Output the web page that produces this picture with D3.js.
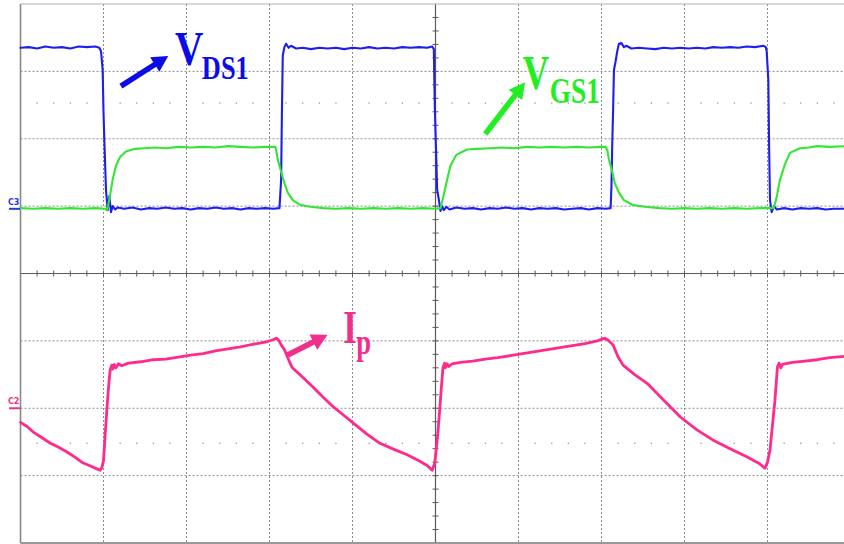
<!DOCTYPE html>
<html>
<head>
<meta charset="utf-8">
<script src="https://cdn.jsdelivr.net/npm/d3@7"></script>
<style>
  html, body { margin: 0; padding: 0; background: #fff; overflow: hidden; }
  svg { display: block; }
</style>
</head>
<body>
<svg id="scope" width="844" height="544"></svg>
<script>
// Oscilloscope capture: time and amplitude are both in screen divisions
// (10 horizontal, 8 vertical, amplitude 0 = screen centre).

// Drain-source voltage V_DS1 (channel 3, blue)
const vds1 = [
  [0.00,3.35],[0.10,3.36],[0.20,3.34],[0.30,3.37],[0.40,3.35],[0.50,3.36],[0.60,3.34],[0.70,3.37],[0.80,3.36],[0.90,3.37],[0.95,3.35],
  [0.97,3.30],[0.99,3.02],[1.00,2.40],[1.01,1.98],[1.03,1.24],[1.05,0.94],[1.07,1.15],[1.09,0.91],[1.11,1.00],[1.14,0.95],[1.17,0.98],
  [1.25,0.96],[1.35,0.98],[1.45,0.95],[1.55,0.97],[1.65,0.96],[1.75,0.98],[1.85,0.96],[1.95,0.97],[2.05,0.95],[2.15,0.97],[2.25,0.96],
  [2.35,0.98],[2.45,0.96],[2.55,0.97],[2.65,0.95],[2.75,0.97],[2.85,0.96],[2.95,0.97],[3.05,0.96],[3.12,0.97],
  [3.14,1.39],[3.15,2.43],[3.16,3.24],[3.18,3.36],[3.20,3.41],[3.23,3.35],[3.26,3.38],
  [3.32,3.34],[3.40,3.35],[3.50,3.33],[3.60,3.35],[3.70,3.34],[3.80,3.35],[3.90,3.33],[4.00,3.35],[4.10,3.34],[4.20,3.36],
  [4.30,3.34],[4.40,3.35],[4.50,3.34],[4.60,3.36],[4.70,3.35],[4.80,3.36],[4.90,3.35],[4.96,3.37],
  [4.98,3.33],[4.99,2.58],[5.00,2.10],[5.01,1.68],[5.02,1.24],[5.04,1.10],[5.06,0.93],[5.08,1.00],[5.10,0.94],[5.13,0.99],[5.17,0.95],
  [5.25,0.98],[5.35,0.96],[5.45,0.97],[5.55,0.95],[5.65,0.97],[5.75,0.96],[5.85,0.98],[5.95,0.96],[6.05,0.97],[6.15,0.95],
  [6.25,0.97],[6.35,0.96],[6.45,0.97],[6.55,0.95],[6.65,0.96],[6.75,0.97],[6.85,0.95],[6.95,0.97],[7.05,0.96],[7.11,0.97],
  [7.12,1.30],[7.13,1.95],[7.14,2.43],[7.15,3.02],[7.17,3.15],[7.19,3.30],[7.21,3.41],[7.24,3.42],[7.27,3.36],[7.30,3.38],
  [7.36,3.34],[7.45,3.35],[7.55,3.34],[7.65,3.33],[7.75,3.35],[7.85,3.34],[7.95,3.35],[8.05,3.34],[8.15,3.35],[8.25,3.34],
  [8.35,3.36],[8.45,3.35],[8.55,3.36],[8.65,3.35],[8.75,3.37],[8.85,3.36],[8.95,3.38],[8.98,3.36],
  [8.99,3.30],[9.01,2.87],[9.02,1.84],[9.03,1.09],[9.05,0.91],[9.08,1.00],[9.11,0.95],
  [9.20,0.97],[9.30,0.95],[9.40,0.97],[9.50,0.96],[9.60,0.97],[9.70,0.95],[9.80,0.96],[9.93,0.96]
];

// Gate-source voltage V_GS1 (green)
const vgs1 = [
  [0.00,0.97],[0.15,0.96],[0.30,0.97],[0.45,0.96],[0.60,0.97],[0.75,0.96],[0.90,0.97],[1.02,0.96],[1.04,0.94],[1.05,0.97],
  [1.08,1.17],[1.11,1.39],[1.15,1.60],[1.20,1.73],[1.27,1.81],[1.38,1.85],[1.50,1.86],[1.62,1.87],[1.75,1.86],[1.90,1.88],
  [2.05,1.87],[2.20,1.88],[2.35,1.87],[2.50,1.89],[2.65,1.88],[2.80,1.87],[2.95,1.88],[3.07,1.88],
  [3.08,1.83],[3.10,1.69],[3.14,1.51],[3.18,1.34],[3.22,1.20],[3.28,1.09],[3.37,1.02],[3.49,0.99],[3.65,0.97],[3.80,0.96],
  [3.95,0.97],[4.10,0.96],[4.25,0.97],[4.40,0.96],[4.55,0.97],[4.70,0.96],[4.85,0.97],[5.00,0.96],[5.06,0.97],
  [5.10,1.17],[5.14,1.39],[5.18,1.60],[5.25,1.76],[5.38,1.84],[5.50,1.85],[5.65,1.86],[5.80,1.87],[5.95,1.86],[6.10,1.88],
  [6.25,1.87],[6.40,1.88],[6.55,1.87],[6.70,1.88],[6.85,1.87],[7.00,1.88],[7.05,1.88],
  [7.07,1.83],[7.09,1.69],[7.13,1.51],[7.16,1.34],[7.21,1.20],[7.27,1.09],[7.37,1.02],[7.52,0.99],[7.70,0.97],[7.85,0.96],
  [8.00,0.97],[8.15,0.96],[8.30,0.97],[8.45,0.96],[8.60,0.97],[8.75,0.96],[8.90,0.97],[9.07,0.97],
  [9.08,0.99],[9.11,1.13],[9.15,1.39],[9.21,1.62],[9.27,1.79],[9.39,1.86],[9.50,1.87],[9.60,1.89],[9.75,1.88],[9.93,1.89]
];

// Primary current I_p (channel 2, pink)
const ip = [
  [0.00,-2.21],[0.08,-2.27],[0.15,-2.35],[0.25,-2.43],[0.36,-2.52],[0.46,-2.58],[0.56,-2.65],[0.66,-2.73],[0.75,-2.81],
  [0.85,-2.86],[0.92,-2.90],[0.96,-2.92],
  [0.98,-2.88],[1.00,-2.78],[1.02,-2.40],[1.04,-2.03],[1.06,-1.70],[1.08,-1.43],[1.10,-1.36],[1.11,-1.42],[1.13,-1.35],
  [1.15,-1.40],[1.18,-1.34],[1.22,-1.37],
  [1.30,-1.33],[1.45,-1.31],[1.60,-1.28],[1.75,-1.27],[1.90,-1.24],[2.05,-1.21],[2.20,-1.19],[2.35,-1.15],[2.50,-1.12],
  [2.65,-1.09],[2.80,-1.05],[2.95,-1.02],[3.05,-0.98],[3.08,-0.96],
  [3.11,-0.99],[3.14,-1.06],[3.18,-1.13],[3.22,-1.25],[3.27,-1.39],[3.40,-1.54],[3.52,-1.68],[3.65,-1.84],[3.77,-1.98],
  [3.89,-2.10],[4.01,-2.22],[4.17,-2.38],[4.33,-2.52],[4.50,-2.61],[4.66,-2.69],[4.80,-2.78],[4.90,-2.85],[4.96,-2.92],
  [4.99,-2.82],[5.00,-2.72],[5.03,-2.35],[5.05,-2.03],[5.07,-1.70],[5.09,-1.40],[5.11,-1.33],[5.12,-1.40],[5.14,-1.34],
  [5.16,-1.38],[5.20,-1.34],
  [5.30,-1.32],[5.45,-1.30],[5.60,-1.27],[5.75,-1.25],[5.90,-1.22],[6.05,-1.19],[6.20,-1.16],[6.35,-1.13],[6.50,-1.10],
  [6.65,-1.07],[6.80,-1.04],[6.95,-1.00],[7.04,-0.96],
  [7.08,-0.99],[7.14,-1.06],[7.20,-1.24],[7.26,-1.36],[7.40,-1.50],[7.55,-1.63],[7.75,-1.88],[7.95,-2.13],[8.15,-2.32],
  [8.34,-2.47],[8.55,-2.60],[8.75,-2.72],[8.90,-2.82],[8.97,-2.89],
  [9.00,-2.80],[9.03,-2.62],[9.06,-2.25],[9.09,-1.88],[9.11,-1.55],[9.12,-1.39],[9.14,-1.33],[9.16,-1.40],[9.18,-1.35],
  [9.30,-1.32],[9.45,-1.30],[9.60,-1.28],[9.75,-1.25],[9.93,-1.23]
];

// Graticule
const xDivLines = [1, 2, 3, 4, 6, 7, 8, 9];
const yDivLines = [3, 2, 1, -1, -2, -3];
const yDotRows = [2.53, -2.52];

// Channel ground markers
const markers = [
  { name: "C3", level: 0.96, color: "#2a3ad8" },
  { name: "C2", level: -2.0, color: "#f0308c" }
];

// Trace annotations: main letter + subscript, and arrows (tail -> tip)
const labels = [
  { main: "V", sub: "DS1", t: 1.86, v: 3.09, color: "#0c0ce8", mainSize: 49, subSize: 33, squeeze: 0.80, dx: 27, dy: 14 },
  { main: "V", sub: "GS1", t: 6.05, v: 2.74, color: "#22ee22", mainSize: 48, subSize: 36, squeeze: 0.76, dx: 27, dy: 14 },
  { main: "I", sub: "p",   t: 3.89, v: -1.03, color: "#f0308c", mainSize: 47, subSize: 36, squeeze: 0.74, dx: 13, dy: 11 }
];
const arrows = [
  { from: [1.21, 2.78], to: [1.78, 3.23], color: "#0c0ce8" },
  { from: [5.60, 2.07], to: [6.08, 2.84], color: "#22ee22" },
  { from: [3.22, -1.21], to: [3.70, -0.91], color: "#f0308c" }
];

const svg = d3.select("#scope");
const x = d3.scaleLinear().domain([0, 10]).range([20.5, 850.5]);
const y = d3.scaleLinear().domain([-4, 4]).range([543, 4]);

svg.append("rect").attr("width", 844).attr("height", 544).attr("fill", "#fff");

const grid = svg.append("g");
// dashed division lines
grid.selectAll("line.vx").data(xDivLines).join("line")
  .attr("x1", d => x(d)).attr("x2", d => x(d))
  .attr("y1", y(4)).attr("y2", y(-4))
  .attr("stroke", "#8c8c8c").attr("stroke-width", 1).attr("stroke-dasharray", "2,2");
grid.selectAll("line.hy").data(yDivLines).join("line")
  .attr("x1", x(0)).attr("x2", x(10))
  .attr("y1", d => y(d)).attr("y2", d => y(d))
  .attr("stroke", "#8c8c8c").attr("stroke-width", 1).attr("stroke-dasharray", "2,2");

// sparse dotted rows
const dotXs = d3.range(1, 50).filter(k => k % 5 !== 0).map(k => k / 5);
yDotRows.forEach(r => {
  grid.selectAll(null).data(dotXs).join("rect")
    .attr("x", d => x(d) - 0.6).attr("y", y(r) - 0.6)
    .attr("width", 1.3).attr("height", 1.3).attr("fill", "#9a9a9a");
});

// centre crosshair with minor ticks
grid.append("line").attr("x1", x(0)).attr("x2", x(10)).attr("y1", y(0)).attr("y2", y(0))
  .attr("stroke", "#5a5a5a").attr("stroke-width", 1.2);
grid.append("line").attr("x1", x(5)).attr("x2", x(5)).attr("y1", y(4)).attr("y2", y(-4))
  .attr("stroke", "#5a5a5a").attr("stroke-width", 1.2);
grid.selectAll(null).data(d3.range(1, 50).map(k => k / 5)).join("line")
  .attr("x1", d => x(d)).attr("x2", d => x(d))
  .attr("y1", y(0) - 3).attr("y2", y(0) + 3)
  .attr("stroke", "#5a5a5a").attr("stroke-width", 1);
grid.selectAll(null).data(d3.range(-19, 20).map(k => k / 5)).join("line")
  .attr("x1", x(5) - 3).attr("x2", x(5) + 3)
  .attr("y1", d => y(d)).attr("y2", d => y(d))
  .attr("stroke", "#5a5a5a").attr("stroke-width", 1);

// frame
grid.append("line").attr("x1", x(0)).attr("x2", x(0)).attr("y1", y(4)).attr("y2", y(-4))
  .attr("stroke", "#888").attr("stroke-width", 1.6);
grid.append("line").attr("x1", x(0)).attr("x2", x(10)).attr("y1", y(4)).attr("y2", y(4))
  .attr("stroke", "#b0b0b0").attr("stroke-width", 1.2);
grid.append("line").attr("x1", x(0)).attr("x2", x(10)).attr("y1", y(-4)).attr("y2", y(-4))
  .attr("stroke", "#777").attr("stroke-width", 1.6);

// traces
const line = d3.line().x(d => x(d[0])).y(d => y(d[1]));
const traces = svg.append("g").attr("fill", "none")
  .attr("stroke-linejoin", "round").attr("stroke-linecap", "round");
traces.append("path").attr("d", line(ip)).attr("stroke", "#ff2a8c").attr("stroke-width", 2.8);
traces.append("path").attr("d", line(vds1)).attr("stroke", "#1e1ef0").attr("stroke-width", 2.1);
traces.append("path").attr("d", line(vgs1)).attr("stroke", "#33e633").attr("stroke-width", 2.1);

// channel ground markers
const mk = svg.append("g");
markers.forEach(m => {
  mk.append("text").attr("x", 8).attr("y", y(m.level) - 4)
    .attr("font-family", "'DejaVu Sans', sans-serif").attr("font-size", 8).attr("font-weight", "bold")
    .attr("fill", m.color).text(m.name);
  mk.append("line").attr("x1", 9).attr("x2", 20).attr("y1", y(m.level)).attr("y2", y(m.level))
    .attr("stroke", m.color).attr("stroke-width", 2);
});

// arrows
arrows.forEach(a => {
  const x0 = x(a.from[0]), y0 = y(a.from[1]), x1 = x(a.to[0]), y1 = y(a.to[1]);
  const len = Math.hypot(x1 - x0, y1 - y0);
  const ux = (x1 - x0) / len, uy = (y1 - y0) / len;
  const nx = -uy, ny = ux;
  const head = 16, hw = 8.5, sw = 2.8;
  const bx = x1 - ux * head, by = y1 - uy * head;
  const pts = [
    [x0 + nx * sw, y0 + ny * sw], [bx + nx * sw, by + ny * sw], [bx + nx * hw, by + ny * hw],
    [x1, y1],
    [bx - nx * hw, by - ny * hw], [bx - nx * sw, by - ny * sw], [x0 - nx * sw, y0 - ny * sw]
  ];
  svg.append("polygon").attr("points", pts.map(p => p.join(",")).join(" ")).attr("fill", a.color);
});

// labels: one text element each, letter plus subscript, narrowed horizontally
labels.forEach(l => {
  const t = svg.append("text")
    .attr("transform", `translate(${x(l.t)},${y(l.v)}) scale(${l.squeeze},1)`)
    .attr("font-family", "'Liberation Serif', 'Times New Roman', serif")
    .attr("font-weight", "bold").attr("fill", l.color);
  t.append("tspan").attr("x", 0).attr("y", 0).attr("font-size", l.mainSize).text(l.main);
  t.append("tspan").attr("x", l.dx / l.squeeze).attr("y", l.dy).attr("font-size", l.subSize).text(l.sub);
});
</script>
</body>
</html>
